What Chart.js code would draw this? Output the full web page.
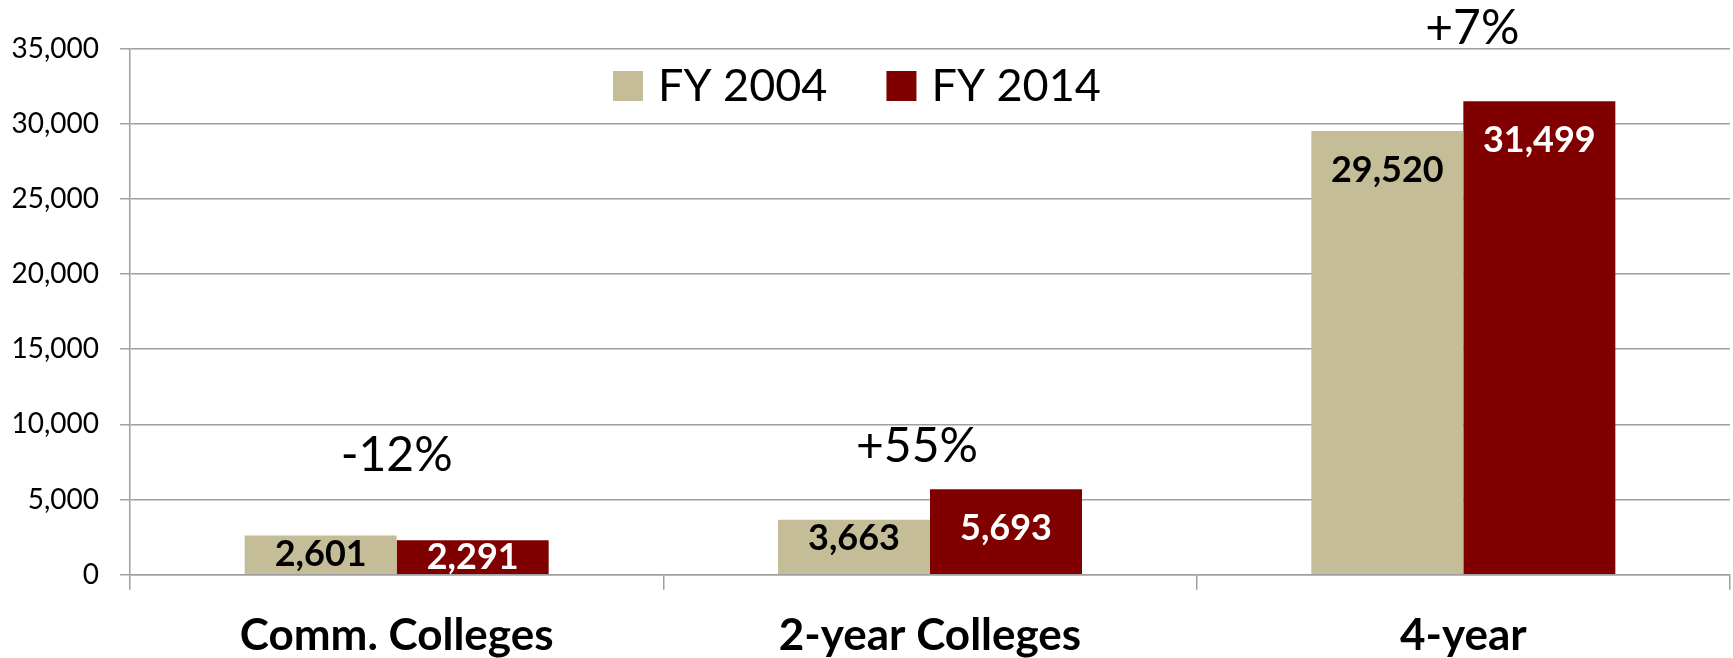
<!DOCTYPE html>
<html>
<head>
<meta charset="utf-8">
<script src="https://cdn.jsdelivr.net/npm/chart.js@4.4.1/dist/chart.umd.min.js"></script>
<style>
  html, body { margin: 0; padding: 0; background: #fff; }
  canvas { display: block; }
</style>
</head>
<body>
<canvas id="myChart" width="1733" height="658"></canvas>
<script>
// enrollment by sector, FY 2004 vs FY 2014

const categories = ['Comm. Colleges', '2-year Colleges', '4-year'];
const seriesNames = ['FY 2004', 'FY 2014'];
const fy2004 = [2601, 3663, 29520];
const fy2014 = [2291, 5693, 31499];
const yMin = 0;
const yMax = 35000;
const yStep = 5000;

const tan = '#C4BD97';
const maroon = '#800000';
const gridGray = '#a0a0a0';

// value labels inside the bars
const barLabels = {
  id: 'barLabels',
  afterDatasetsDraw(chart) {
    const ctx = chart.ctx;
    ctx.save();
    ctx.font = 'bold 36px Lato';
    ctx.textAlign = 'center';
    ctx.textBaseline = 'middle';
    chart.data.datasets.forEach((ds, i) => {
      const meta = chart.getDatasetMeta(i);
      meta.data.forEach((bar, j) => {
        const h = bar.base - bar.y;
        const off = h >= 80 ? 39 : Math.min(19, h / 2);
        ctx.fillStyle = i === 0 ? '#000' : '#fff';
        ctx.fillText(ds.data[j].toLocaleString('en-US'), bar.x, bar.y + off);
      });
    });
    ctx.restore();
  }
};

// percent change above each pair
const changeLabels = {
  id: 'changeLabels',
  afterDatasetsDraw(chart, args, opts) {
    const ctx = chart.ctx;
    const xs = chart.scales.x;
    const ys = chart.scales.y;
    ctx.save();
    ctx.font = '48px Lato';
    ctx.textAlign = 'center';
    ctx.textBaseline = 'middle';
    ctx.fillStyle = '#000';
    categories.forEach((c, j) => {
      const pct = Math.round((fy2014[j] - fy2004[j]) / fy2004[j] * 100);
      const txt = (pct > 0 ? '+' : '') + pct + '%';
      const top = ys.getPixelForValue(Math.max(fy2004[j], fy2014[j]));
      ctx.fillText(txt, xs.getPixelForValue(j) + opts.dx[j], top - opts.offsets[j]);
    });
    ctx.restore();
  }
};

// legend drawn inside the plot area
const innerLegend = {
  id: 'innerLegend',
  afterDraw(chart, args, opts) {
    const ctx = chart.ctx;
    ctx.save();
    ctx.font = '45px Lato';
    ctx.textBaseline = 'middle';
    let x = opts.x;
    chart.data.datasets.forEach((ds) => {
      ctx.fillStyle = ds.backgroundColor;
      ctx.fillRect(x, opts.y - 15, 30, 30);
      ctx.fillStyle = '#000';
      ctx.fillText(ds.label, x + 45, opts.y);
      x += 45 + ctx.measureText(ds.label).width + 59;
    });
    ctx.restore();
  }
};

const data = {
  labels: categories,
  datasets: [{
    label: seriesNames[0],
    data: fy2004,
    backgroundColor: tan,
    borderWidth: 0
  }, {
    label: seriesNames[1],
    data: fy2014,
    backgroundColor: maroon,
    borderWidth: 0
  }]
};

const config = {
  type: 'bar',
  data: data,
  plugins: [barLabels, changeLabels, innerLegend],
  options: {
    responsive: false,
    devicePixelRatio: 1,
    animation: false,
    layout: { padding: { top: 48.6, right: 3, left: 0, bottom: 0 } },
    datasets: {
      bar: { categoryPercentage: 0.57, barPercentage: 1.0 }
    },
    plugins: {
      legend: { display: false },
      tooltip: { enabled: false },
      changeLabels: { offsets: [80, 43, 73], dx: [0, -13, 9] },
      innerLegend: { x: 613, y: 86 }
    },
    scales: {
      x: {
        afterFit: (s) => { s.height = 83.3; },
        grid: {
          display: true,
          offset: true,
          drawOnChartArea: false,
          tickLength: 15,
          color: gridGray,
          lineWidth: 1.5
        },
        border: { display: true, color: gridGray, width: 1.5 },
        ticks: {
          padding: 20,
          color: '#000',
          font: { family: 'Lato', size: 44, weight: 'bold' }
        }
      },
      y: {
        min: yMin,
        max: yMax,
        afterFit: (s) => { s.width = 130; },
        grid: {
          color: gridGray,
          lineWidth: 1.5,
          tickLength: 10
        },
        border: { display: true, color: gridGray, width: 1.5 },
        ticks: {
          stepSize: yStep,
          padding: 21,
          color: '#000',
          font: { family: 'Lato', size: 28 },
          callback: (v) => v.toLocaleString('en-US')
        }
      }
    }
  }
};

const myChart = new Chart(
  document.getElementById('myChart'),
  config
);
</script>
</body>
</html>
